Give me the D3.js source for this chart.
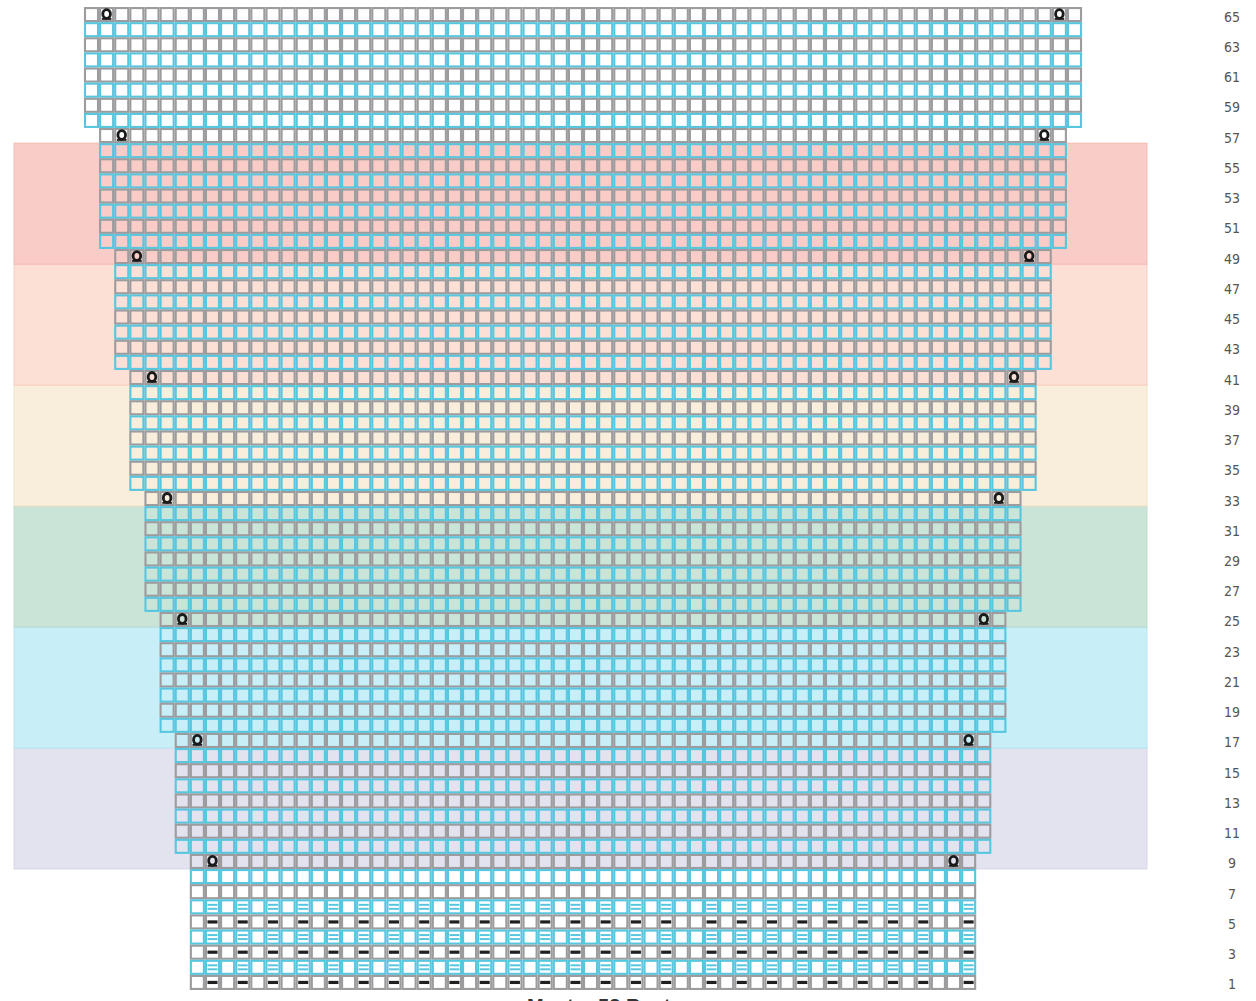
<!DOCTYPE html>
<html>
<head>
<meta charset="utf-8">
<script src="https://cdn.jsdelivr.net/npm/d3@7"></script>
<style>
  body { margin: 0; background: #fff; }
  svg { display: block; }
</style>
</head>
<body>
<svg width="1256" height="1001"></svg>
<script>
var svg = d3.select("svg");

// chart rows, top to bottom
var rowNumbers = [65,64,63,62,61,60,59,58,57,56,55,54,53,52,51,50,49,48,47,46,45,44,43,42,41,
  40,39,38,37,36,35,34,33,32,31,30,29,28,27,26,25,24,23,22,21,20,19,18,17,16,15,14,13,12,11,
  10,9,8,7,6,5,4,3,2,1];
var rowLabels = [65,63,61,59,57,55,53,51,49,47,45,43,41,39,37,35,33,31,29,27,25,23,21,19,17,15,13,11,9,7,5,3,1];

// stitch count per section of rows
var sectionStart = [1, 10, 18, 26, 34, 42, 50, 58];
var sectionEnd = [9, 17, 25, 33, 41, 49, 57, 65];
var sectionStitches = [52, 54, 56, 58, 60, 62, 64, 66];

// yarn over rows (2nd stitch from each edge)
var yarnOverRows = [9, 17, 25, 33, 41, 49, 57, 65];

// purl stitches in the ribbing at the bottom
var purlRows = [1, 2, 3, 4, 5, 6];
var purlCols = [2,4,6,8,10,12,14,16,18,20,22,24,26,28,30,32,35,37,39,41,43,45,47,49,52];

// coloured bands behind the chart
var bandStart = [9, 17, 25, 33, 41, 49];
var bandEnd = [16, 24, 32, 40, 48, 56];
var bandColors = ["#e3e2ef", "#c8eff8", "#cbe4d8", "#f9eedb", "#fce0d6", "#f9ccc7"];
var bandStroke = ["#d4d2e6", "#ade3ef", "#b4d8c8", "#f1dfc0", "#f7c9b9", "#f3b3aa"];

var footerText = "Muster 52 Rept";

var grayStroke = "#9c9c9e";
var blueStroke = "#57c6df";
var cellStroke = 2.1;

var y = d3.scaleBand()
  .domain(rowNumbers)
  .range([7, 990]);

var pitch = y.bandwidth();
var centerX = 583;

var x = d3.scaleLinear()
  .domain([-33, 33])
  .range([centerX - 33 * pitch, centerX + 33 * pitch]);

function stitchesInRow(r) {
  for (var i = 0; i < sectionStart.length; i++) {
    if (r >= sectionStart[i] && r <= sectionEnd[i]) return sectionStitches[i];
  }
  return 0;
}

// left edge of column c (1-based) in a row of n stitches
function colLeft(c, n) {
  return x(c - 1 - n / 2);
}

// bands
svg.append("g").selectAll("rect")
  .data(bandStart)
  .join("rect")
  .attr("x", 14)
  .attr("y", function(d, i) { return y(bandEnd[i]); })
  .attr("width", 1147 - 14)
  .attr("height", function(d, i) { return y(d) + pitch - y(bandEnd[i]); })
  .attr("fill", function(d, i) { return bandColors[i]; })
  .attr("stroke", function(d, i) { return bandStroke[i]; })
  .attr("stroke-width", 0.8);

// cells
var grid = svg.append("g");
rowNumbers.forEach(function(r) {
  var n = stitchesInRow(r);
  var cols = d3.range(1, n + 1);
  grid.append("g").selectAll("rect")
    .data(cols)
    .join("rect")
    .attr("x", function(c) { return colLeft(c, n) + cellStroke / 2; })
    .attr("y", y(r) + cellStroke / 2)
    .attr("width", pitch - cellStroke)
    .attr("height", pitch - cellStroke)
    .attr("fill", "none")
    .attr("stroke", r % 2 == 1 ? grayStroke : blueStroke)
    .attr("stroke-width", cellStroke);
});

// purl symbols
var symbols = svg.append("g");
purlRows.forEach(function(r) {
  var n = stitchesInRow(r);
  var cy = y(r) + pitch / 2;
  purlCols.forEach(function(c) {
    var cx = colLeft(c, n) + pitch / 2;
    if (r % 2 == 1) {
      symbols.append("rect")
        .attr("x", cx - 5).attr("y", cy - 1.6)
        .attr("width", 10).attr("height", 3.2)
        .attr("fill", "#1f1f1f");
    } else {
      symbols.append("rect")
        .attr("x", cx - 5).attr("y", cy - 3)
        .attr("width", 10).attr("height", 2)
        .attr("fill", blueStroke);
      symbols.append("rect")
        .attr("x", cx - 5).attr("y", cy + 1)
        .attr("width", 10).attr("height", 2)
        .attr("fill", blueStroke);
    }
  });
});

// yarn overs
yarnOverRows.forEach(function(r) {
  var n = stitchesInRow(r);
  var cy = y(r) + pitch / 2;
  [2, n - 1].forEach(function(c) {
    var cx = colLeft(c, n) + pitch / 2;
    symbols.append("ellipse")
      .attr("cx", cx).attr("cy", cy - 0.6)
      .attr("rx", 3.8).attr("ry", 4.4)
      .attr("fill", "none")
      .attr("stroke", "#1a1a1a")
      .attr("stroke-width", 2.8);
    symbols.append("line")
      .attr("x1", cx - 4.8).attr("x2", cx + 4.8)
      .attr("y1", cy + 4.4).attr("y2", cy + 4.4)
      .attr("stroke", "#1a1a1a")
      .attr("stroke-width", 1.8);
  });
});

// row numbers on the right
svg.append("g").selectAll("text")
  .data(rowLabels)
  .join("text")
  .attr("x", 1232)
  .attr("y", function(d) { return y(d) + pitch / 2 + 7; })
  .attr("text-anchor", "middle")
  .attr("font-family", "'Liberation Sans Narrow', 'DejaVu Sans', sans-serif")
  .style("font-stretch", "condensed")
  .attr("font-size", 14)
  .attr("fill", "#555")
  .text(function(d) { return d; });

svg.append("text")
  .attr("x", 527)
  .attr("y", 1013)
  .attr("font-family", "'Liberation Sans', Arial, sans-serif")
  .attr("font-size", 20)
  .attr("font-weight", "bold")
  .attr("fill", "#333")
  .text(footerText);
</script>
</body>
</html>
